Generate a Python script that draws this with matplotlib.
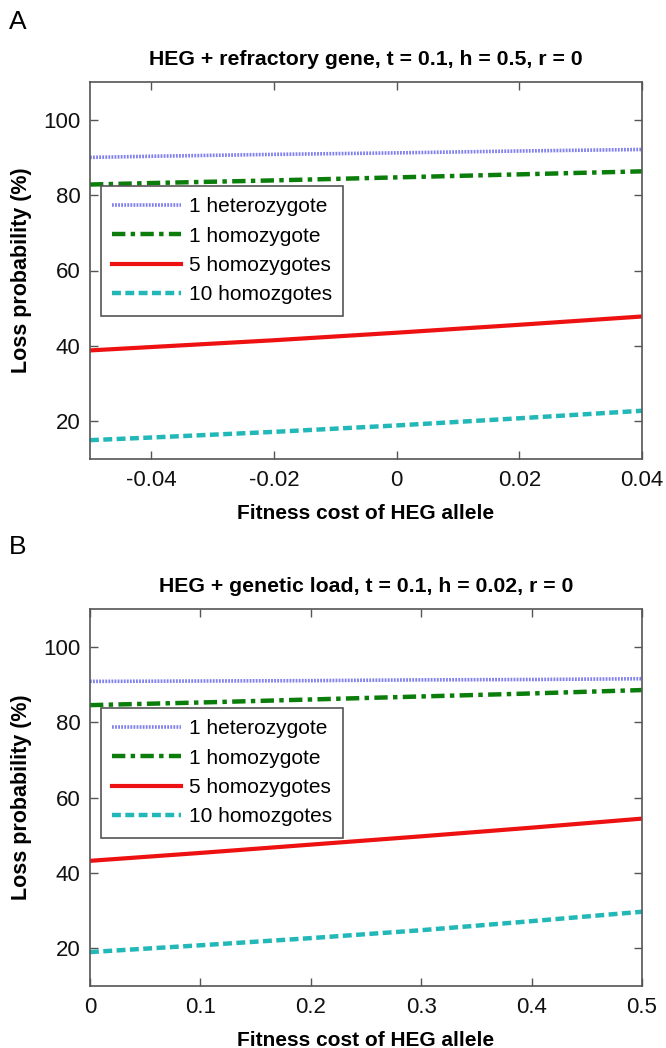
import matplotlib
matplotlib.use("Agg")
import matplotlib.pyplot as plt

plt.rcParams['font.family'] = ['Liberation Sans', 'DejaVu Sans']

# Panel A data
xA = [-0.05, -0.04, -0.02, 0.0, 0.02, 0.04]
hetA = [90.0, 90.3, 90.8, 91.2, 91.7, 92.1]
homA = [82.8, 83.2, 83.9, 84.7, 85.5, 86.3]
hom5A = [38.8, 39.7, 41.5, 43.5, 45.6, 47.8]
hom10A = [15.0, 15.7, 17.2, 18.9, 20.8, 22.8]
xticksA = [-0.04, -0.02, 0, 0.02, 0.04]
xticklabelsA = ['-0.04', '-0.02', '0', '0.02', '0.04']

# Panel B data
xB = [0.0, 0.1, 0.2, 0.3, 0.4, 0.5]
hetB = [90.8, 90.9, 91.0, 91.2, 91.3, 91.5]
homB = [84.5, 85.2, 86.0, 86.8, 87.6, 88.5]
hom5B = [43.2, 45.3, 47.5, 49.7, 52.0, 54.4]
hom10B = [19.0, 20.8, 22.7, 24.8, 27.2, 29.7]
xticksB = [0, 0.1, 0.2, 0.3, 0.4, 0.5]
xticklabelsB = ['0', '0.1', '0.2', '0.3', '0.4', '0.5']

yticks = [20, 40, 60, 80, 100]
labels = ['1 heterozygote', '1 homozygote', '5 homozygotes', '10 homozgotes']

W, H = 666, 1048
fig = plt.figure(figsize=(W / 100, H / 100), dpi=100)


def make_ax(left, top, right, bottom):
    return fig.add_axes([left / W, 1 - bottom / H, (right - left) / W, (bottom - top) / H])


def draw(ax, x, het, hom, h5, h10, xlim, xt, xtl, title, legend_top):
    ax.plot(x, het, color='#8080ee', lw=2.6, linestyle=(0, (0.5, 0.35)), label=labels[0])
    ax.plot(x, hom, color='#0a7d0a', lw=3.2, linestyle=(0, (3, 1.2, 1, 1.2)), label=labels[1])
    ax.plot(x, h5, color='#ee1111', lw=3.0, linestyle='-', label=labels[2])
    ax.plot(x, h10, color='#22b8b8', lw=3.2, linestyle=(0, (2, 1)), label=labels[3])
    ax.set_xlim(*xlim)
    ax.set_ylim(10, 110)
    ax.set_xticks(xt)
    ax.set_xticklabels(xtl)
    ax.set_yticks(yticks)
    ax.tick_params(direction='in', length=6, width=1, color='#555555',
                   top=True, right=True, labelsize=16, labelcolor='#111111')
    ax.tick_params(axis='y', pad=7)
    ax.tick_params(axis='x', pad=8)
    for s in ax.spines.values():
        s.set_color('#555555')
        s.set_linewidth(1.2)
    ax.set_title(title, fontsize=15.3, fontweight='bold', pad=12)
    ax.set_xlabel('Fitness cost of HEG allele', fontsize=15, fontweight='bold', labelpad=9)
    ax.set_ylabel('Loss probability (%)', fontsize=15.5, fontweight='bold', labelpad=8)
    leg = ax.legend(loc='upper left', bbox_to_anchor=(0.02, legend_top), fontsize=15,
                    handlelength=3.3, labelspacing=0.5, handletextpad=0.35,
                    borderpad=0.55, fancybox=False, framealpha=1, borderaxespad=0)
    leg.get_frame().set_edgecolor('#555555')
    leg.get_frame().set_linewidth(1.2)


axA = make_ax(90, 82, 642, 459)
draw(axA, xA, hetA, homA, hom5A, hom10A, (-0.05, 0.04), xticksA, xticklabelsA,
     'HEG + refractory gene, t = 0.1, h = 0.5, r = 0', 0.725)

axB = make_ax(90, 609, 642, 986)
draw(axB, xB, hetB, homB, hom5B, hom10B, (0, 0.5), xticksB, xticklabelsB,
     'HEG + genetic load, t = 0.1, h = 0.02, r = 0', 0.738)

fig.text(9 / W, 1 - 22 / H, 'A', fontsize=19, va='center', ha='left')
fig.text(9 / W, 1 - 547 / H, 'B', fontsize=19, va='center', ha='left')

fig.savefig('out.png', dpi=100)
